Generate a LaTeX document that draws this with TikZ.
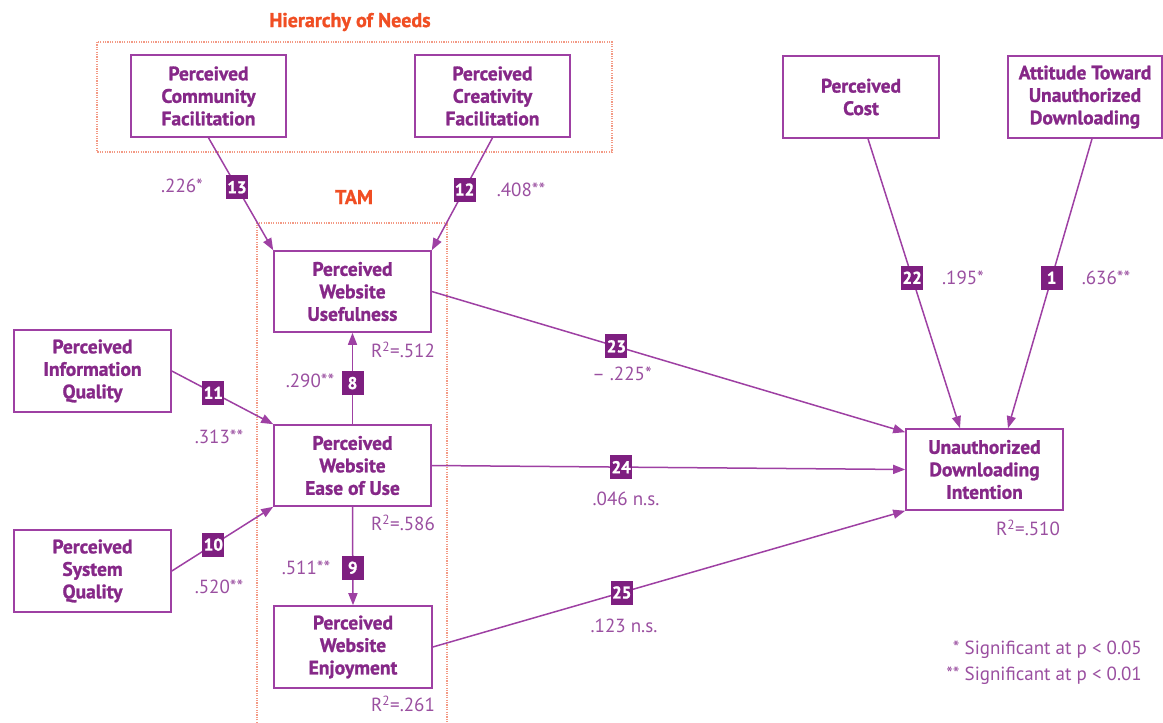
\documentclass[tikz,border=0pt]{standalone}
\usepackage{fontspec}
\setsansfont{PT Sans}
\newfontfamily\heavyfont{PT Sans}[FakeBold=1.2]
\usetikzlibrary{arrows.meta}
\definecolor{boxline}{HTML}{9E40A3}
\definecolor{boxtext}{HTML}{862888}
\definecolor{numtext}{HTML}{9A4FA0}
\definecolor{badgefill}{HTML}{7E1F80}
\definecolor{grouptitle}{HTML}{F04E23}
\definecolor{groupline}{HTML}{F39A85}
\begin{document}
\begin{tikzpicture}[x=1pt,y=-1pt,
  construct/.style={draw=boxline, line width=1.6pt, fill=white, text=boxtext,
    font=\heavyfont\bfseries\fontsize{19.5}{22.5}\selectfont, align=center,
    minimum width=157pt, minimum height=82pt, inner sep=0pt},
  group/.style={draw=groupline, line width=1.3pt, dash pattern=on 1.2pt off 1.2pt},
  grouplabel/.style={text=grouptitle, font=\heavyfont\bfseries\fontsize{20}{22}\selectfont},
  path/.style={draw=boxline, line width=1.5pt, -{Triangle[length=12pt,width=9pt]}},
  badge/.style={fill=badgefill, text=white, font=\heavyfont\bfseries\fontsize{17}{18}\selectfont,
    minimum width=22pt, minimum height=24pt, inner sep=1pt},
  coef/.style={text=numtext, font=\sffamily\fontsize{19}{21}\selectfont, inner sep=0pt},
]
\useasboundingbox (0,0) rectangle (1163,723);

% grouping frames
\draw[group] (97,42) rectangle (612,152);
\draw[group] (257,730) -- (257,223) -- (447,223) -- (447,730);
\node[grouplabel] (hnlabel) at (350,22) {Hierarchy of Needs};
\node[grouplabel] (tamlabel) at (354,197) {TAM};

% constructs
\node[construct, minimum width=155pt] (comm) at (208.5,96) {Perceived\\Community\\Facilitation};
\node[construct, minimum width=155pt] (creat) at (492.5,96) {Perceived\\Creativity\\Facilitation};
\node[construct, minimum width=156pt] (cost) at (861,97) {Perceived\\Cost};
\node[construct, minimum width=154pt] (att) at (1085,97) {Attitude Toward\\Unauthorized\\Downloading};
\node[construct, minimum height=81pt] (use) at (352.5,291.5) {Perceived\\Website\\Usefulness};
\node[construct] (info) at (92.5,371) {Perceived\\Information\\Quality};
\node[construct, minimum height=81pt] (ease) at (352.5,465.5) {Perceived\\Website\\Ease of Use};
\node[construct] (sys) at (92.5,571) {Perceived\\System\\Quality};
\node[construct, minimum width=158pt] (enjoy) at (353,647) {Perceived\\Website\\Enjoyment};
\node[construct, minimum height=81pt] (intent) at (984.5,469.5) {Unauthorized\\Downloading\\Intention};

% paths with their numbers
\draw[path] (comm.south) -- node[badge, pos=0.44] (b13) {13} (use.north west);
\draw[path] (creat.south) -- node[badge, pos=0.46] (b12) {12} (use.north east);
\draw[path] (ease.north) -- node[badge, pos=0.45] (b8) {8} (use.south);
\draw[path] (ease.south) -- node[badge, pos=0.62] (b9) {9} (enjoy.north);
\draw[path] (info.east) -- node[badge, pos=0.41] (b11) {11} (ease.north west);
\draw[path] (sys.east) -- node[badge, pos=0.41] (b10) {10} (ease.south west);
\draw[path] (use.east) -- node[badge, pos=0.39] (b23) {23} ([yshift=-4pt]intent.north west);
\draw[path] (ease.east) -- node[badge, pos=0.40] (b24) {24} (intent.west);
\draw[path] (enjoy.east) -- node[badge, pos=0.40] (b25) {25} (intent.south west);
\draw[path] ([xshift=7pt]cost.south) -- node[badge, pos=0.48] (b22) {22} ([xshift=-24.5pt]intent.north);
\draw[path] ([xshift=7pt]att.south) -- node[badge, pos=0.48] (b1) {1} ([xshift=23.5pt]intent.north);

% coefficients
\node[coef] (c13) at (182,186) {.226*};
\node[coef] (c12) at (521,190) {.408**};
\node[coef] (c8) at (310,381) {.290**};
\node[coef] (c9) at (306,568) {.511**};
\node[coef] (c11) at (219,437) {.313**};
\node[coef] (c10) at (219,587) {.520**};
\node[coef] (c23) at (622,374) {\textendash\ .225*};
\node[coef] (c24) at (626,499) {.046 n.s.};
\node[coef] (c25) at (624,626) {.123 n.s.};
\node[coef] (c22) at (963,278) {.195*};
\node[coef] (c1) at (1106,278) {.636**};

% explained variance
\node[coef] (r1) at (403,350) {R\textsuperscript{2}=.512};
\node[coef] (r2) at (403,523) {R\textsuperscript{2}=.586};
\node[coef] (r3) at (403,704) {R\textsuperscript{2}=.261};
\node[coef] (r4) at (1028,528) {R\textsuperscript{2}=.510};

% significance key
\node[coef, anchor=east] (k1) at (1142,650) {* Significant at p < 0.05};
\node[coef, anchor=east] (k2) at (1142,676) {** Significant at p < 0.01};
\end{tikzpicture}
\end{document}
